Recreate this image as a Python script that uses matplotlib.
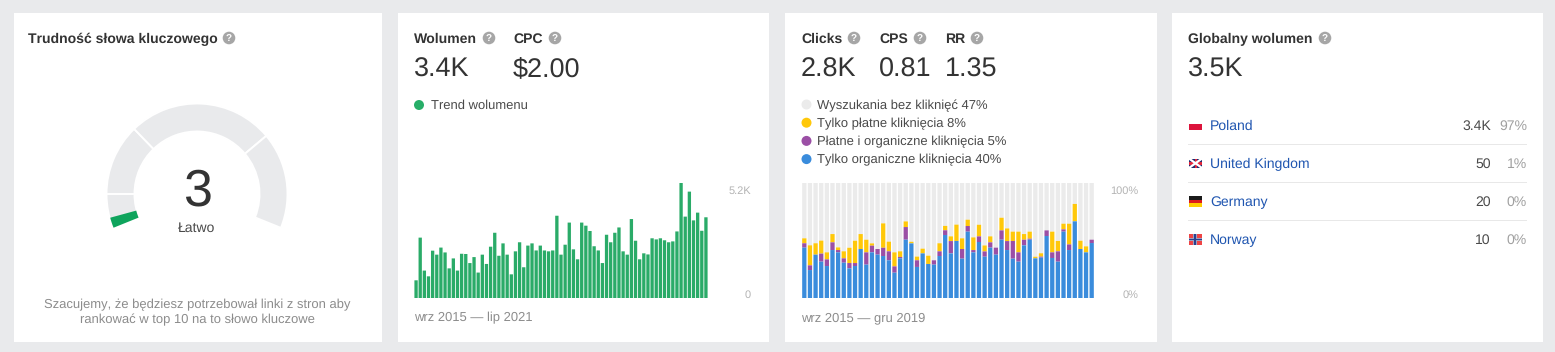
#! /usr/bin/env python

import matplotlib
matplotlib.use("Agg")
import numpy as np
import matplotlib.pyplot as plt
from matplotlib.patches import Wedge, Rectangle, Circle

plt.rcParams['font.family'] = ['Liberation Sans', 'DejaVu Sans']
plt.rcParams['text.hinting'] = 'no_hinting'
plt.rcParams['text.hinting_factor'] = 1

W = 1555
H = 352

# search volume per month, wrz 2015 - lip 2021
volume = [800, 2730, 1240, 980, 2140, 1960, 2280, 2060, 1340, 1790, 1240, 2000,
          1990, 1580, 1850, 1150, 1960, 1540, 2320, 2950, 1910, 2470, 1960, 1070,
          2110, 2520, 1390, 2370, 2470, 2150, 2370, 2150, 2110, 2150, 3720, 1960,
          2410, 3410, 2200, 1750, 3410, 3270, 3030, 2340, 2150, 1580, 2860, 2520,
          2950, 3190, 2110, 1960, 3570, 2590, 1750, 2020, 1970, 2700, 2650, 2700,
          2610, 2520, 2560, 3010, 5200, 3680, 4810, 3510, 3860, 3040, 3650]

# click shares per month in percent, wrz 2015 - gru 2019
organic = [43.8, 24.3, 37.7, 31.6, 27.8, 41.7, 39.7, 30.7, 25.8, 27.8, 42.6, 29.0, 39.7,
           37.7, 36.5, 32.8, 22.0, 34.5, 50.7, 47.5, 27.0, 38.8, 29.6, 29.0, 36.5, 54.8,
           38.8, 49.6, 34.2, 57.7, 39.7, 48.7, 35.9, 43.8, 37.7, 50.7, 41.7, 34.2, 31.6,
           45.8, 50.7, 34.5, 35.1, 53.9, 34.8, 31.6, 57.7, 41.7, 66.7, 42.6, 39.7, 47.8]
both = [3.8, 4.1, 0, 7.0, 5.8, 6.7, 2.0, 3.8, 4.6, 2.6, 0, 10.7, 5.8,
        4.9, 7.2, 7.8, 5.5, 1.2, 11.0, 0, 5.8, 0, 0, 3.8, 4.1, 4.1,
        10.7, 0, 8.4, 4.9, 2.0, 4.9, 4.6, 4.6, 6.1, 8.1, 7.8, 15.4, 8.1,
        4.9, 0.9, 0, 0.9, 4.9, 4.9, 9.0, 2.0, 4.9, 0, 0, 0, 2.9]
paid = [4.3, 17.4, 9.9, 11.3, 6.1, 7.2, 2.3, 6.1, 13.3, 19.4, 13.0, 11.0, 2.0,
        0, 21.2, 8.4, 12.2, 4.9, 4.9, 1.4, 3.2, 4.1, 7.2, 0, 7.0, 3.8,
        4.1, 14.2, 9.3, 5.5, 11.0, 10.1, 5.2, 5.2, 0, 11.0, 11.0, 8.1, 18.0,
        4.9, 6.1, 1.4, 2.9, 0, 18.0, 9.0, 4.9, 18.0, 15.1, 7.2, 5.2, 0]

click_legend = ["Wyszukania bez kliknięć 47%", "Tylko płatne kliknięcia 8%",
                "Płatne i organiczne kliknięcia 5%", "Tylko organiczne kliknięcia 40%"]
click_colors = ["#ebebeb", "#ffc80a", "#9b4fa5", "#3a8cdc"]

countries = ["Poland", "United Kingdom", "Germany", "Norway"]
country_volume = ["3.4K", "50", "20", "10"]
country_share = ["97%", "1%", "0%", "0%"]

difficulty = 3

fig = plt.figure(figsize=(W / 100, H / 100), dpi=100, facecolor="#e9eaec")

# one full size axes in pixels for cards and text
bg = fig.add_axes([0, 0, 1, 1])
bg.set_xlim(0, W)
bg.set_ylim(0, H)
bg.axis("off")


# y is the middle of the capital letters, so rows stay even with descenders
def txt(x, y, s, size=12, color="#333333", weight="normal", ha="left"):
    bg.text(x, H - y - size * 0.36, s, fontsize=size * 0.72, color=color,
            fontweight=weight, ha=ha, va="baseline")


def help_icon(x, y):
    bg.add_patch(Circle((x, H - y), 6.3, color="#a6a6a6", lw=0))
    bg.text(x, H - y - 0.2, "?", fontsize=7, color="white", fontweight="bold",
            ha="center", va="center")


def dot(x, y, color):
    bg.add_patch(Circle((x, H - y), 5, color=color, lw=0))


def rect(x0, y0, x1, y1, color):
    bg.add_patch(Rectangle((x0, H - y1), x1 - x0, y1 - y0, color=color, lw=0))


for x0, x1 in [(14, 382), (398, 769), (785, 1157), (1172, 1543)]:
    rect(x0, 13, x1, 342, "white")

# card 1, gauge
txt(28, 38, "Trudność słowa kluczowego", 14, "#333333", "bold")
help_icon(229, 38)
cx, cy = 197, H - 194
ang_start, ang_end = 202, -22
for a0, a1 in [(180, 202), (134, 180), (40, 134), (-22, 40)]:
    bg.add_patch(Wedge((cx, cy), 90.5, a0, a1, width=28, facecolor="#e9eaec",
                       edgecolor="white", lw=1.4))
ang_val = ang_start - (ang_start - ang_end) * difficulty / 100
bg.add_patch(Wedge((cx, cy), 90, ang_val, ang_start, width=27, facecolor="#0ea45c", lw=0))
txt(197, 186.5, str(difficulty), 52, "#333333", ha="center")
txt(197, 227, "Łatwo", 14, "#4a4a4a", ha="center")
txt(197, 304, "Szacujemy, że będziesz potrzebował linki z stron aby", 13, "#8c8c8c", ha="center")
txt(197, 319, "rankować w top 10 na to słowo kluczowe", 13, "#8c8c8c", ha="center")

# card 2, volume
txt(414, 38, "Wolumen", 14, "#333333", "bold")
help_icon(489, 38)
txt(513, 38, "CPC", 14, "#333333", "bold")
help_icon(555, 38)
txt(414, 67, "3.4K", 27)
txt(513, 67, "$2.00", 27)
dot(419, 105, "#27ae68")
txt(431, 104.5, "Trend wolumenu", 13, "#4a4a4a")
ax1 = fig.add_axes([414 / W, 1 - 298 / H, 294 / W, 115 / H])
ax1.bar(np.arange(len(volume)), volume, width=0.8, color="#2aab68", snap=False)
ax1.set_xlim(-0.5, len(volume) - 0.5)
ax1.set_ylim(0, 5200)
ax1.axis("off")
txt(751, 190, "5.2K", 11, "#b3b3b3", ha="right")
txt(751, 294, "0", 11, "#b3b3b3", ha="right")
txt(414, 317, "wrz 2015 — lip 2021", 13, "#8c8c8c")

# card 3, clicks
txt(801, 38, "Clicks", 14, "#333333", "bold")
help_icon(854, 38)
txt(879, 38, "CPS", 14, "#333333", "bold")
help_icon(920, 38)
txt(945, 38, "RR", 14, "#333333", "bold")
help_icon(977, 38)
txt(801, 67, "2.8K", 27)
txt(879, 67, "0.81", 27)
txt(945, 67, "1.35", 27)
for i in range(len(click_legend)):
    dot(806.5, 104.5 + i * 18.2, click_colors[i])
    txt(817, 104.5 + i * 18.2, click_legend[i], 13, "#4a4a4a")
ax2 = fig.add_axes([801.5 / W, 1 - 298 / H, 293 / W, 115 / H])
xs = np.arange(len(organic))
org = np.array(organic)
bth = np.array(both)
pd_ = np.array(paid)
ax2.bar(xs, 100 - org - bth - pd_, bottom=org + bth + pd_, width=0.76, color=click_colors[0], snap=False)
ax2.bar(xs, pd_, bottom=org + bth, width=0.76, color=click_colors[1], snap=False)
ax2.bar(xs, bth, bottom=org, width=0.76, color=click_colors[2], snap=False)
ax2.bar(xs, org, width=0.76, color=click_colors[3], snap=False)
ax2.set_xlim(-0.5, len(organic) - 0.5)
ax2.set_ylim(0, 100)
ax2.axis("off")
txt(1138, 190, "100%", 11, "#b3b3b3", ha="right")
txt(1138, 294, "0%", 11, "#b3b3b3", ha="right")
txt(801, 317, "wrz 2015 — gru 2019", 13, "#8c8c8c")

# card 4, countries
txt(1188, 38, "Globalny wolumen", 14, "#333333", "bold")
help_icon(1325, 38)
txt(1188, 67, "3.5K", 27)
for i in range(len(countries)):
    y = 125 + i * 38
    txt(1210, y, countries[i], 14, "#1f55b0")
    txt(1491, y, country_volume[i], 14, "#4a4a4a", ha="right")
    txt(1527, y, country_share[i], 14, "#a0a0a0", ha="right")
    if i < 3:
        rect(1188, y + 19, 1527, y + 20, "#e8e8e8")

# flags
x0, x1 = 1189, 1202
rect(x0, 124, x1, 130, "#dc143c")
rect(x0, 158.5, x1, 168, "#1f2a6e")
bg.plot([x0, x1], [H - 158.5, H - 168], color="white", lw=1.6)
bg.plot([x0, x1], [H - 168, H - 158.5], color="white", lw=1.6)
rect(x0, 162, x1, 164.5, "#e0263c")
rect(1194.5, 158.5, 1196.5, 168, "#e0263c")
rect(x0, 196, x1, 199.5, "#1a1a1a")
rect(x0, 199.5, x1, 203, "#dd1c1c")
rect(x0, 203, x1, 206.5, "#ffce00")
rect(x0, 234, x1, 244.5, "#ef4444")
rect(1193, 234, 1196.5, 244.5, "#9a9fc0")
rect(x0, 237.5, x1, 241, "#9a9fc0")
rect(1194, 234, 1195.5, 244.5, "#2b3f8c")
rect(x0, 238.5, x1, 240, "#2b3f8c")

plt.savefig("out.png", dpi=100, facecolor=fig.get_facecolor())
